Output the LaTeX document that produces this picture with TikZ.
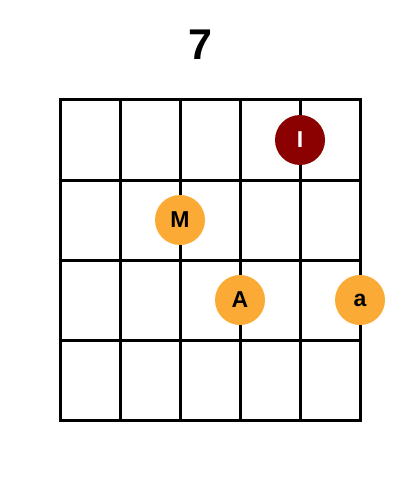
\documentclass[tikz,border=0pt]{standalone}
\usepackage{fontspec}
\setmainfont{Liberation Sans}
\usepackage{tikz}
\usetikzlibrary{positioning}
\definecolor{fingerdark}{HTML}{8B0000}
\definecolor{fingerorange}{HTML}{FBAA35}

\begin{document}
\begin{tikzpicture}[
      x=1pt,y=-1pt,
      fret/.style={
         line width=3pt,
         draw=black,
         line cap=rect
      },
      finger/.style={
         circle,
         minimum size=50pt,
         inner sep=0pt,
         fill=fingerorange,
         font=\bfseries\fontsize{23}{23}\selectfont
      },
      index/.style={
         finger,
         fill=fingerdark,
         text=white
      },
      title/.style={
         font=\bfseries\fontsize{43}{43}\selectfont
      }
    ]
    \useasboundingbox (0,0) rectangle (400,500);
    \node (t7) [title] at (200,45) {7};
    %\draw (60,100) grid (360,420);
    \foreach \x in {60,120,...,360} {
       \draw[fret] (\x,100) -- (\x,420);
    }
    \foreach \y in {100,180,...,420} {
       \draw[fret] (60,\y) -- (360,\y);
    }
    \node (fI) [index] at (300,140) {I};
    \node (fM) [finger] at (180,220) {M};
    \node (fA) [finger] at (240,300) {A};
    \node (fa) [finger] at (360,300) {a};
\end{tikzpicture}
\end{document}
